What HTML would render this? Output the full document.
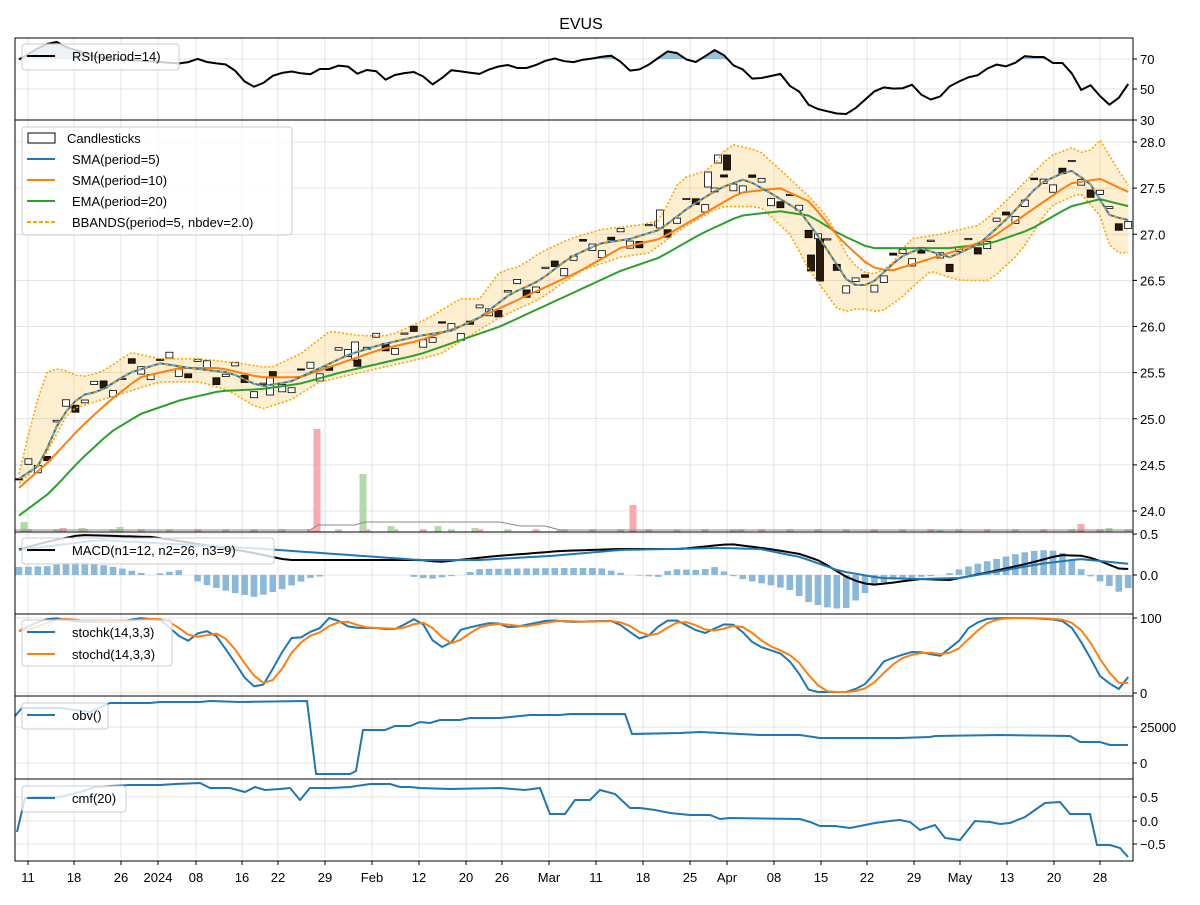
<!DOCTYPE html>
<html><head><meta charset="utf-8"><style>
body{margin:0;background:#fff;}
svg{font-family:"Liberation Sans","DejaVu Sans",sans-serif;}
</style></head><body>
<svg id="s" width="1200" height="900" xmlns="http://www.w3.org/2000/svg"></svg>
<script>
const S=document.getElementById('s');let h='';
const L=15,R=1133;
const P={rsi:[38,120],main:[120,532],macd:[532,614],st:[614,696],obv:[696,779],cmf:[779,861]};
function lin(pts,x){if(x<=pts[0][0])return pts[0][1];for(let i=1;i<pts.length;i++){if(x<=pts[i][0]){const a=pts[i-1],b=pts[i];return a[1]+(b[1]-a[1])*(x-a[0])/(b[0]-a[0]);}}return pts[pts.length-1][1];}
const N=119,X=i=>19+i*9.4;const xs=[];for(let i=0;i<N;i++)xs.push(X(i));
function line(pts,col,w,dash){return '<polyline fill="none" stroke="'+col+'" stroke-width="'+w+'"'+(dash?' stroke-dasharray="'+dash+'"':'')+' points="'+pts.map(p=>p[0].toFixed(1)+','+p[1].toFixed(1)).join(' ')+'"/>';}
function ser(kp,f){return xs.map(x=>[x,f?f(lin(kp,x)):lin(kp,x)]);}
const py=p=>142+(28-p)*92.25;
const ticks=[[28,'11'],[74,'18'],[121,'26'],[158,'2024'],[196,'08'],[242,'16'],[278,'22'],[325,'29'],[372,'Feb'],[419,'12'],[466,'20'],[502,'26'],[549,'Mar'],[596,'11'],[643,'18'],[690,'25'],[727,'Apr'],[774,'08'],[821,'15'],[867,'22'],[914,'29'],[960,'May'],[1007,'13'],[1054,'20'],[1100,'28']];
for(const k in P){for(const t of ticks)h+='<line x1="'+t[0]+'" x2="'+t[0]+'" y1="'+P[k][0]+'" y2="'+P[k][1]+'" stroke="#dcdcdc" stroke-width="0.8"/>';}
function hg(y){h+='<line x1="'+L+'" x2="'+R+'" y1="'+y+'" y2="'+y+'" stroke="#dcdcdc" stroke-width="0.8"/>';}
function yt(y,t){h+='<line x1="'+R+'" x2="'+(R+4)+'" y1="'+y+'" y2="'+y+'" stroke="#000"/><text x="'+(R+7)+'" y="'+(y+5)+'" font-size="13">'+t+'</text>';}
[[59,'70'],[89,'50'],[120,'30']].forEach(a=>{hg(a[0]);yt(a[0],a[1]);});
for(let p=24;p<=28.01;p+=0.5){const y=py(p);hg(y);yt(y,p.toFixed(1));}
[[534,'0.5'],[575,'0.0']].forEach(a=>{hg(a[0]);yt(a[0],a[1]);});
[[618,'100'],[693,'0']].forEach(a=>{hg(a[0]);yt(a[0],a[1]);});
[[727,'25000'],[763,'0']].forEach(a=>{hg(a[0]);yt(a[0],a[1]);});
[[797,'0.5'],[821,'0.0'],[844,'−0.5']].forEach(a=>{hg(a[0]);yt(a[0],a[1]);});
// RSI
const rsi=[[15,62],[28,54],[42,46],[55,41],[68,48],[82,52],[100,58],[130,60],[160,62],[185,64],[195,58],[210,63],[225,64],[237,72],[250,88],[262,84],[272,76],[285,72],[298,71],[307,78],[315,69],[330,69],[345,63],[355,75],[364,70],[375,70],[385,80],[395,75],[410,72],[420,72],[430,86],[440,80],[450,70],[465,72],[480,74],[490,69],[500,66],[508,65],[515,68],[530,68],[540,63],[550,59],[560,58],[568,64],[580,60],[590,59],[600,57],[617,55],[625,70],[634,71],[644,68],[671,49],[690,62],[700,62],[709,52],[718,49],[736,68],[745,70],[755,82],[765,76],[774,76],[783,73],[792,90],[801,92],[810,107],[830,112],[839,114],[849,114],[876,90],[885,87],[895,89],[904,88],[914,84],[923,97],[932,100],[941,96],[950,86],[960,81],[969,77],[979,75],[988,68],[998,64],[1008,67],[1015,63],[1025,56],[1034,57],[1044,57],[1053,63],[1063,63],[1071,72],[1081,90],[1091,85],[1099,95],[1109,105],[1118,99],[1128,84]];
const rs=ser(rsi);
h+='<clipPath id="ca"><rect x="'+L+'" y="38" width="'+(R-L)+'" height="21"/></clipPath>';
h+='<polygon clip-path="url(#ca)" fill="#1f77b4" fill-opacity="0.45" points="'+L+',59 '+rs.map(p=>p[0]+','+p[1]).join(' ')+' '+R+',59"/>';
h+=line(rs,'#000',2);
// volume
const vol=[[24,10],[63,4],[82,4],[120,5],[317,103],[363,58],[391,6],[438,6],[475,4],[633,27],[741,3],[1081,8],[1109,4],[940,2],[560,2]];
vol.forEach(v=>{h+='<rect x="'+(v[0]-3.5)+'" y="'+(532-v[1])+'" width="7" height="'+v[1]+'" fill="'+(v[0]==317||v[0]==633||v[0]==1081||v[0]==63?'#f9a0a5':'#a8d5a0')+'" opacity="0.9"/>';});
for(let i=0;i<N;i++){if(i%3==1)h+='<rect x="'+(X(i)-3.5)+'" y="529" width="7" height="3" fill="'+(i%2?'#f9b0b5':'#b5dcb0')+'"/>';}
h+=line([[15,530],[310,530],[318,525],[355,525],[365,522],[500,522],[520,526],[545,526],[560,530],[1133,530]],'#888',1);
// BB
const up=[[19,24.4],[30,24.9],[45,25.5],[60,25.55],[80,25.45],[100,25.5],[115,25.6],[130,25.72],[160,25.65],[200,25.65],[240,25.6],[270,25.55],[300,25.7],[330,25.95],[360,25.9],[390,25.9],[430,26.1],[460,26.3],[480,26.3],[500,26.6],[520,26.65],[540,26.8],[570,26.95],[600,27.05],[640,27.1],[660,27.15],[680,27.6],[710,27.7],[730,27.98],[760,27.9],[790,27.6],[810,27.4],[830,27.15],[850,26.7],[870,26.55],[890,26.65],[910,26.95],[940,27.0],[980,27.1],[1010,27.4],[1050,27.85],[1075,27.95],[1085,27.85],[1100,28.02],[1118,27.7],[1130,27.5]];
const lo=[[19,24.3],[30,24.4],[45,24.6],[70,25.1],[100,25.2],[130,25.3],[160,25.4],[200,25.4],[230,25.3],[260,25.1],[290,25.2],[320,25.4],[360,25.5],[400,25.6],[440,25.7],[470,25.9],[500,26.1],[540,26.3],[580,26.6],[620,26.75],[650,26.8],[680,27.05],[720,27.3],[760,27.3],[790,27.0],[810,26.6],[840,26.15],[860,26.2],[880,26.15],[900,26.3],[930,26.6],[960,26.5],[990,26.5],[1020,26.8],[1050,27.3],[1080,27.45],[1100,27.2],[1112,26.8],[1130,26.8]];
const us=ser(up,py),ls=ser(lo,py);
h+='<polygon fill="#ffa500" fill-opacity="0.18" points="'+us.map(p=>p.join(',')).join(' ')+' '+ls.slice().reverse().map(p=>p.join(',')).join(' ')+'"/>';
const sma5=[[19,24.35],[40,24.5],[60,25.0],[80,25.25],[100,25.3],[130,25.5],[160,25.6],[190,25.55],[230,25.5],[260,25.35],[290,25.4],[320,25.55],[350,25.7],[380,25.8],[420,25.9],[450,25.95],[480,26.1],[510,26.35],[540,26.5],[570,26.75],[600,26.9],[630,26.95],[660,27.05],[690,27.3],[720,27.5],[745,27.6],[770,27.45],[800,27.25],[820,26.95],[850,26.45],[870,26.45],[900,26.75],[920,26.85],[950,26.75],[980,26.9],[1010,27.2],[1040,27.55],[1070,27.7],[1090,27.55],[1110,27.2],[1130,27.15]];
const sma10=[[19,24.25],[50,24.55],[80,24.9],[110,25.2],[140,25.45],[180,25.55],[220,25.55],[260,25.45],[300,25.45],[340,25.6],[380,25.75],[420,25.85],[460,26.0],[500,26.2],[540,26.4],[580,26.6],[620,26.85],[660,26.95],[700,27.2],[740,27.45],[780,27.5],[810,27.35],[840,26.95],[870,26.65],[890,26.6],[920,26.7],[950,26.8],[990,26.95],[1030,27.25],[1070,27.55],[1100,27.6],[1130,27.45]];
const ema=[[19,23.95],[50,24.2],[80,24.55],[110,24.85],[140,25.05],[180,25.2],[220,25.3],[260,25.32],[300,25.38],[340,25.5],[380,25.6],[420,25.7],[460,25.85],[500,26.0],[540,26.2],[580,26.4],[620,26.6],[660,26.75],[700,27.0],[740,27.2],[780,27.25],[810,27.2],[840,27.0],[870,26.85],[910,26.85],[950,26.85],[990,26.9],[1030,27.05],[1070,27.3],[1100,27.38],[1130,27.3]];
for(let i=0;i<N;i++){const x=X(i);const m=lin(sma5,x)+Math.sin(i*1.7)*0.12;const o=m+Math.sin(i*2.3)*0.04,c=m-Math.sin(i*2.3)*0.04;const top=py(Math.max(o,c)),b=py(Math.min(o,c));const fill=(i%3==0)?'#2b1a08':'#fff';h+='<rect x="'+(x-3.5)+'" y="'+top+'" width="7" height="'+Math.max(1.2,b-top)+'" fill="'+fill+'" stroke="#000" stroke-width="0.8"/>';}
[[811,255,271],[820,239,281],[718,155,163],[727,155,170],[708,172,187],[660,210,228],[355,342,360],[270,378,395]].forEach(c=>{h+='<rect x="'+(c[0]-3.5)+'" y="'+c[1]+'" width="7" height="'+(c[2]-c[1])+'" fill="'+(c[0]==820||c[0]==811||c[0]==727?'#2b1a08':'#fff')+'" stroke="#000" stroke-width="0.8"/>';});
h+=line(us,'#ffa500',1.6,'2,2')+line(ls,'#ffa500',1.6,'2,2');
h+=line(ser(ema,py),'#2ca02c',2)+line(ser(sma10,py),'#ff7f0e',2)+line(ser(sma5,py),'#1f77b4',2)+line(ser(sma5,py),'#ffa500',1.2,'4,3');
// MACD
const hist=[[19,-8],[50,-9],[70,-13],[90,-12],[120,-7],[150,0],[180,-5],[200,8],[230,17],[255,22],[280,15],[310,3],[330,0],[400,0],[430,4],[460,0],[480,-6],[560,-7],[600,-7],[630,0],[660,2],[670,-6],[700,-5],[715,-8],[735,2],[750,6],[770,10],[790,15],[810,28],[830,33],[845,34],[860,22],[875,10],[895,4],[920,2],[945,0],[960,-6],[980,-12],[1000,-17],[1020,-22],[1040,-25],[1060,-24],[1075,-12],[1085,-2],[1095,4],[1108,10],[1118,17],[1128,13]];
for(let i=0;i<N;i++){const x=X(i),v=lin(hist,x);if(Math.abs(v)<0.6)continue;h+='<rect x="'+(x-3.3)+'" y="'+(v<0?575+v:575)+'" width="6.6" height="'+Math.abs(v)+'" fill="#8ab8db"/>';}
const macd=[[17,550],[50,541],[80,535],[153,537],[249,552],[287,560],[421,560],[440,562],[497,556],[560,551],[620,549],[680,549],[730,544],[770,549],[800,554],[820,561],[850,579],[870,585],[890,583],[920,579],[950,580],[990,572],[1030,563],[1060,555],[1085,556],[1100,561],[1120,569],[1130,569]];
const sig=[[17,550],[100,540],[250,548],[420,560],[480,560],[550,556],[620,550],[720,548],[760,549],[800,557],[840,571],[880,578],[920,579],[960,578],[1000,571],[1040,564],[1080,559],[1110,562],[1130,564]];
h+=line(ser(macd),'#000',2)+line(ser(sig),'#1f77b4',2);
// Stoch
const K=[[17,632],[42,620],[55,618],[80,622],[110,622],[125,621],[140,618],[160,620],[175,632],[186,643],[195,634],[212,630],[232,658],[250,686],[262,687],[275,665],[290,638],[300,638],[310,632],[320,628],[328,618],[335,618],[345,626],[360,628],[380,628],[390,630],[400,628],[410,620],[420,618],[430,638],[440,647],[448,647],[460,630],[475,626],[495,622],[510,628],[530,624],[550,620],[570,622],[600,621],[615,621],[630,632],[643,641],[660,625],[672,618],[690,627],[703,634],[720,626],[730,622],[745,634],[755,645],[770,650],[785,655],[800,675],[810,692],[850,692],[867,683],[885,660],[900,656],[908,652],[920,652],[940,656],[960,640],[970,626],[985,619],[1000,618],[1030,618],[1060,620],[1070,625],[1085,648],[1100,676],[1118,690],[1128,677]];
const ks=ser(K);const ds=ks.map((p,i)=>[p[0],(ks[Math.max(0,i-2)][1]+ks[Math.max(0,i-1)][1]+p[1])/3]);
h+=line(ks,'#1f77b4',2)+line(ds,'#ff7f0e',2);
const obv=[[15,716],[22,708],[60,708],[90,712],[110,703],[150,703],[160,702],[200,702],[210,701],[240,702],[307,701],[316,774],[350,774],[356,771],[363,730],[385,730],[395,726],[410,726],[420,722],[430,723],[440,720],[460,720],[470,718],[500,718],[520,716],[530,715],[560,715],[570,714],[625,714],[632,734],[680,733],[700,732],[720,733],[740,734],[760,735],[800,735],[820,738],[900,738],[930,737],[935,736],[1000,735],[1070,736],[1080,742],[1100,742],[1110,745],[1128,745]];
h+=line(obv,'#1f77b4',2);
const cmf=[[17,832],[25,798],[35,797],[60,797],[80,792],[95,787],[110,786],[130,785],[160,785],[175,784],[200,783],[210,788],[230,788],[245,792],[255,787],[265,790],[280,789],[290,788],[300,800],[310,788],[330,788],[350,787],[370,784],[390,784],[400,787],[410,787],[420,788],[450,789],[500,788],[525,790],[540,788],[550,814],[565,814],[575,800],[590,800],[600,790],[615,794],[630,808],[640,808],[655,810],[670,813],[690,815],[710,815],[720,819],[730,818],[800,819],[810,822],[820,826],[835,826],[850,828],[860,826],[875,823],[890,821],[900,820],[910,822],[920,830],[935,825],[945,838],[960,840],[975,821],[990,822],[1000,824],[1010,823],[1025,817],[1035,810],[1045,803],[1060,802],[1070,814],[1080,814],[1090,814],[1097,845],[1110,845],[1120,848],[1128,857]];
h+=line(cmf,'#1f77b4',2);
for(const k in P)h+='<rect x="'+L+'" y="'+P[k][0]+'" width="'+(R-L)+'" height="'+(P[k][1]-P[k][0])+'" fill="none" stroke="#000" stroke-width="1"/>';
ticks.forEach(t=>{h+='<line x1="'+t[0]+'" x2="'+t[0]+'" y1="861" y2="865" stroke="#000"/><text x="'+t[0]+'" y="882" font-size="13" text-anchor="middle">'+t[1]+'</text>';});
h+='<text x="581" y="29" font-size="16" text-anchor="middle">EVUS</text>';
function box(x,y,w,hh){h+='<rect x="'+x+'" y="'+y+'" width="'+w+'" height="'+hh+'" rx="3" fill="#fff" fill-opacity="0.8" stroke="#ccc"/>';}
function ent(x,y,col,t,dash){h+='<line x1="'+x+'" x2="'+(x+28)+'" y1="'+y+'" y2="'+y+'" stroke="'+col+'" stroke-width="2"'+(dash?' stroke-dasharray="4,2"':'')+'/><text x="'+(x+45)+'" y="'+(y+5)+'" font-size="13">'+t+'</text>';}
box(22,44,157,26);ent(27,56,'#000','RSI(period=14)');
box(22,127,270,108);h+='<rect x="28" y="133" width="27" height="10" fill="#fff" stroke="#000"/><text x="67" y="143" font-size="13">Candlesticks</text>';
ent(27,159,'#1f77b4','SMA(period=5)');ent(27,180,'#ff7f0e','SMA(period=10)');ent(27,201,'#2ca02c','EMA(period=20)');ent(27,222,'#ffa500','BBANDS(period=5, nbdev=2.0)',1);
box(22,538,252,26);ent(27,550,'#000','MACD(n1=12, n2=26, n3=9)');
box(22,620,150,46);ent(27,632,'#1f77b4','stochk(14,3,3)');ent(27,654,'#ff7f0e','stochd(14,3,3)');
box(22,703,86,26);ent(27,715,'#1f77b4','obv()');
box(22,786,104,26);ent(27,798,'#1f77b4','cmf(20)');
S.innerHTML=h;
</script>
</body></html>
